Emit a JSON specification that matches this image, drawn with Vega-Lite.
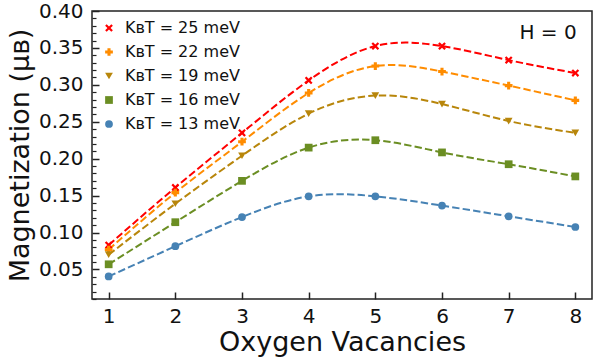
{
  "$schema": "https://vega.github.io/schema/vega-lite/v6.json",
  "width": 500,
  "height": 288,
  "autosize": {"type": "none"},
  "padding": {"left": 92, "top": 11, "right": 2, "bottom": 59},
  "config": {
    "font": "DejaVu Sans",
    "view": {"stroke": "#222", "strokeWidth": 1.5},
    "axis": {"grid": false, "domain": false, "tickColor": "#222", "labelColor": "#111", "titleColor": "#111", "labelFont": "DejaVu Sans", "titleFont": "DejaVu Sans", "titleFontWeight": "normal"}
  },
  "data": {"values": [
    {"x": 1, "s": "KʙT = 25 meV", "m": 0.083},
    {"x": 2, "s": "KʙT = 25 meV", "m": 0.161},
    {"x": 3, "s": "KʙT = 25 meV", "m": 0.235},
    {"x": 4, "s": "KʙT = 25 meV", "m": 0.306},
    {"x": 5, "s": "KʙT = 25 meV", "m": 0.3525},
    {"x": 6, "s": "KʙT = 25 meV", "m": 0.3525},
    {"x": 7, "s": "KʙT = 25 meV", "m": 0.3335},
    {"x": 8, "s": "KʙT = 25 meV", "m": 0.316},
    {"x": 1, "s": "KʙT = 22 meV", "m": 0.077},
    {"x": 2, "s": "KʙT = 22 meV", "m": 0.154},
    {"x": 3, "s": "KʙT = 22 meV", "m": 0.223},
    {"x": 4, "s": "KʙT = 22 meV", "m": 0.289},
    {"x": 5, "s": "KʙT = 22 meV", "m": 0.3255},
    {"x": 6, "s": "KʙT = 22 meV", "m": 0.318},
    {"x": 7, "s": "KʙT = 22 meV", "m": 0.299},
    {"x": 8, "s": "KʙT = 22 meV", "m": 0.279},
    {"x": 1, "s": "KʙT = 19 meV", "m": 0.070},
    {"x": 2, "s": "KʙT = 19 meV", "m": 0.139},
    {"x": 3, "s": "KʙT = 19 meV", "m": 0.204},
    {"x": 4, "s": "KʙT = 19 meV", "m": 0.261},
    {"x": 5, "s": "KʙT = 19 meV", "m": 0.2855},
    {"x": 6, "s": "KʙT = 19 meV", "m": 0.274},
    {"x": 7, "s": "KʙT = 19 meV", "m": 0.251},
    {"x": 8, "s": "KʙT = 19 meV", "m": 0.235},
    {"x": 1, "s": "KʙT = 16 meV", "m": 0.057},
    {"x": 2, "s": "KʙT = 16 meV", "m": 0.114},
    {"x": 3, "s": "KʙT = 16 meV", "m": 0.170},
    {"x": 4, "s": "KʙT = 16 meV", "m": 0.215},
    {"x": 5, "s": "KʙT = 16 meV", "m": 0.225},
    {"x": 6, "s": "KʙT = 16 meV", "m": 0.2085},
    {"x": 7, "s": "KʙT = 16 meV", "m": 0.1925},
    {"x": 8, "s": "KʙT = 16 meV", "m": 0.176},
    {"x": 1, "s": "KʙT = 13 meV", "m": 0.0405},
    {"x": 2, "s": "KʙT = 13 meV", "m": 0.0815},
    {"x": 3, "s": "KʙT = 13 meV", "m": 0.121},
    {"x": 4, "s": "KʙT = 13 meV", "m": 0.149},
    {"x": 5, "s": "KʙT = 13 meV", "m": 0.149},
    {"x": 6, "s": "KʙT = 13 meV", "m": 0.1365},
    {"x": 7, "s": "KʙT = 13 meV", "m": 0.122},
    {"x": 8, "s": "KʙT = 13 meV", "m": 0.1075}
  ]},
  "layer": [
    {
      "mark": {"type": "line", "interpolate": "natural", "strokeDash": [7.4, 3.2], "strokeWidth": 2},
      "encoding": {
        "x": {"field": "x", "type": "quantitative", "scale": {"domain": [0.75, 8.25], "nice": false, "zero": false},
          "axis": {"values": [1, 2, 3, 4, 5, 6, 7, 8], "tickCount": 100, "format": "d", "tickSize": -7, "tickWidth": 1.5, "labelFontSize": 20, "labelPadding": 14, "title": "Oxygen Vacancies", "titleFontSize": 27, "titlePadding": 3}},
        "y": {"field": "m", "type": "quantitative", "scale": {"domain": [0.01, 0.40], "nice": false, "zero": false},
          "axis": {"values": [0.01,0.02,0.03,0.04,0.05,0.06,0.07,0.08,0.09,0.10,0.11,0.12,0.13,0.14,0.15,0.16,0.17,0.18,0.19,0.20,0.21,0.22,0.23,0.24,0.25,0.26,0.27,0.28,0.29,0.30,0.31,0.32,0.33,0.34,0.35,0.36,0.37,0.38,0.39,0.40],
            "tickCount": 100,
            "labelExpr": "abs(datum.value*20 - round(datum.value*20)) < 0.001 ? format(datum.value, '.2f') : ''",
            "labelOverlap": false, "labelFlush": false,
            "tickSize": {"condition": {"test": "abs(datum.value*20 - round(datum.value*20)) < 0.001", "value": -7}, "value": -4},
            "tickWidth": {"condition": {"test": "abs(datum.value*20 - round(datum.value*20)) < 0.001", "value": 1.5}, "value": 1.2},
            "labelFontSize": 20, "labelPadding": 16, "title": "Magnetization (μʙ)", "titleFontSize": 27, "titlePadding": 4}},
        "color": {"field": "s", "type": "nominal",
          "scale": {"domain": ["KʙT = 25 meV", "KʙT = 22 meV", "KʙT = 19 meV", "KʙT = 16 meV", "KʙT = 13 meV"], "range": ["#ff0000", "#ff8c00", "#b8860b", "#6b8e23", "#4682b4"]},
          "legend": {"title": null, "orient": "top-left", "offset": 9, "labelFontSize": 16, "labelColor": "#111", "symbolSize": 60, "labelOffset": 8, "rowPadding": 8, "padding": 0, "symbolStrokeWidth": 0, "symbolDash": [], "symbolFillColor": null}}
      }
    },
    {
      "mark": {"type": "point", "filled": true, "opacity": 1, "size": 60},
      "encoding": {
        "x": {"field": "x", "type": "quantitative"},
        "y": {"field": "m", "type": "quantitative"},
        "color": {"field": "s", "type": "nominal"},
        "shape": {"field": "s", "type": "nominal",
          "scale": {"domain": ["KʙT = 25 meV", "KʙT = 22 meV", "KʙT = 19 meV", "KʙT = 16 meV", "KʙT = 13 meV"], "range": ["M-1,-0.6L-0.6,-1L0,-0.4L0.6,-1L1,-0.6L0.4,0L1,0.6L0.6,1L0,0.4L-0.6,1L-1,0.6L-0.4,0Z", "cross", "triangle-down", "square", "circle"]}}
      }
    },
    {
      "data": {"values": [{"label": "H = 0", "xp": 8.02, "yp": 0.370}]},
      "mark": {"type": "text", "align": "right", "baseline": "middle", "fontSize": 20, "color": "#111"},
      "encoding": {
        "x": {"field": "xp", "type": "quantitative"},
        "y": {"field": "yp", "type": "quantitative"},
        "text": {"field": "label"}
      }
    }
  ]
}
